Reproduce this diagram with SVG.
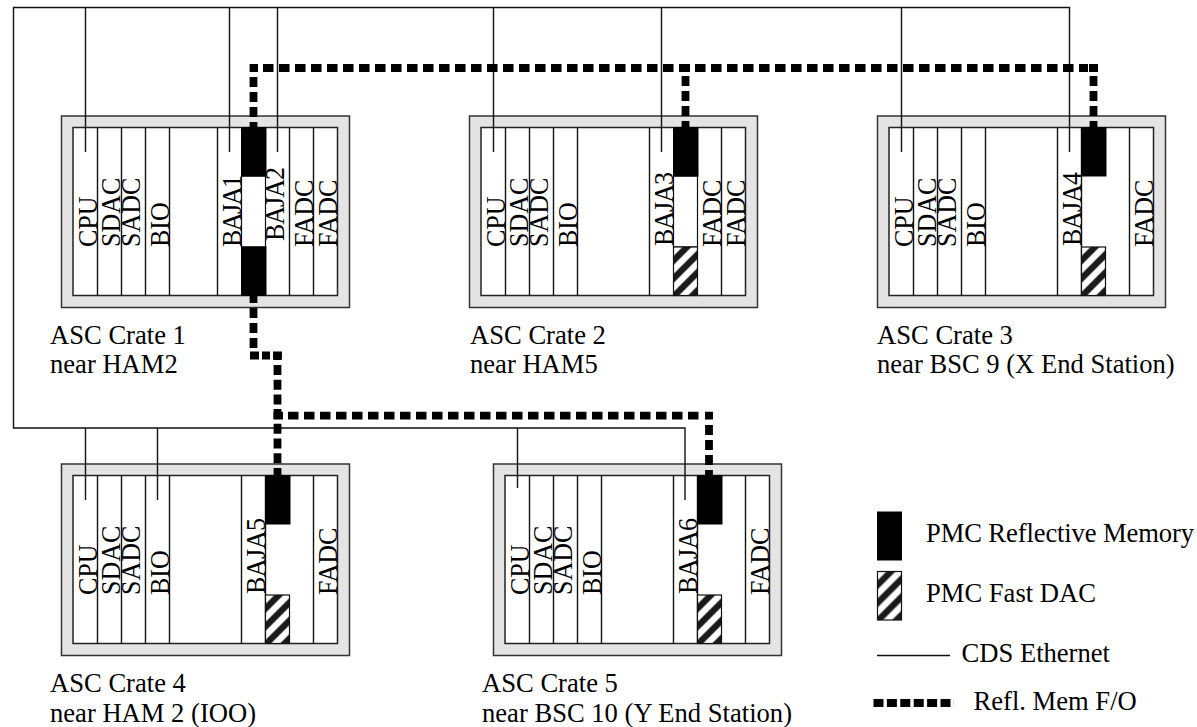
<svg xmlns="http://www.w3.org/2000/svg" width="1197" height="727" viewBox="0 0 1197 727">
<style>
text{font-family:"Liberation Serif","Times New Roman",serif;font-size:26.6px;fill:#000}
text.v{font-size:26px}
.outer{fill:#e4e4e4;stroke:#333;stroke-width:1.5}
.inner{fill:#fff;stroke:#222;stroke-width:1.5}
.slot{stroke:#111;stroke-width:1.4;fill:none}
.rm{fill:#000;stroke:#000;stroke-width:1}
.mid{fill:#fff;stroke:#111;stroke-width:1.2}
.dac{fill:url(#hatch);stroke:#111;stroke-width:1.2}
.eth{stroke:#111;stroke-width:1.4;fill:none}
.fo{stroke:#000;stroke-width:7.800;fill:none;stroke-dasharray:10 5}
.foh{stroke:#000;stroke-width:7.800;fill:none;stroke-dasharray:10.500 5.500}
.solid{stroke-dasharray:none}
</style>
<defs>
<pattern id="hatch" patternUnits="userSpaceOnUse" width="18" height="18" x="0" y="0">
<rect width="18" height="18" fill="#fff"/>
<polygon points="0,9 9,0 18,0 0,18" fill="#1a1a1a"/>
<polygon points="18,9 9,18 18,18" fill="#1a1a1a"/>
</pattern>
</defs>

<g id="crate1">
<rect class="outer" x="61.5" y="116" width="288" height="191.5"/>
<rect class="inner" x="73" y="127.5" width="264.5" height="168"/>
<path class="slot" d="M97.5 127.5V295.5M121.5 127.5V295.5M145.5 127.5V295.5M169.5 127.5V295.5M217.5 127.5V295.5M289.5 127.5V295.5M313.5 127.5V295.5"/>
<rect class="mid" x="241.5" y="176" width="24" height="71"/>
<rect class="rm" x="241.5" y="127.5" width="24.5" height="48.5"/>
<rect class="rm" x="241.5" y="247" width="24.5" height="48.5"/>
<text class="v" transform="translate(97,247) rotate(-90) scale(1,1.05)">CPU</text>
<text class="v" transform="translate(120,247) rotate(-90) scale(1,1.05)">SDAC</text>
<text class="v" transform="translate(139.5,247) rotate(-90) scale(1,1.05)">SADC</text>
<text class="v" transform="translate(169,247) rotate(-90) scale(1,1.05)">BIO</text>
<text class="v" transform="translate(241,247) rotate(-90) scale(1,1.05)" textLength="72">BAJA1</text>
<text class="v" transform="translate(284,241) rotate(-90) scale(1,1.05)" textLength="74">BAJA2</text>
<text class="v" transform="translate(313,247) rotate(-90) scale(1,1.05)">FADC</text>
<text class="v" transform="translate(337,247) rotate(-90) scale(1,1.05)">FADC</text>
<text x="50" y="344">ASC Crate 1</text>
<text x="50" y="373">near HAM2</text>
</g>

<g id="crate2" transform="translate(408,0)">
<rect class="outer" x="61.5" y="116" width="288" height="191.5"/>
<rect class="inner" x="73" y="127.5" width="264.5" height="168"/>
<path class="slot" d="M97.5 127.5V295.5M121.5 127.5V295.5M145.5 127.5V295.5M169.5 127.5V295.5M241.5 127.5V295.5M313.5 127.5V295.5"/>
<rect class="mid" x="265.5" y="176" width="24" height="71"/>
<rect class="rm" x="265.5" y="127.5" width="24.5" height="48.5"/>
<g transform="translate(265.5,247)"><rect class="dac" width="24" height="48.5"/></g>
<text class="v" transform="translate(97,247) rotate(-90) scale(1,1.05)">CPU</text>
<text class="v" transform="translate(120,247) rotate(-90) scale(1,1.05)">SDAC</text>
<text class="v" transform="translate(139.5,247) rotate(-90) scale(1,1.05)">SADC</text>
<text class="v" transform="translate(169,247) rotate(-90) scale(1,1.05)">BIO</text>
<text class="v" transform="translate(265,246) rotate(-90) scale(1,1.05)" textLength="74">BAJA3</text>
<text class="v" transform="translate(313,247) rotate(-90) scale(1,1.05)">FADC</text>
<text class="v" transform="translate(337,247) rotate(-90) scale(1,1.05)">FADC</text>
<text x="62" y="344">ASC Crate 2</text>
<text x="62" y="373">near HAM5</text>
</g>

<g id="crate3" transform="translate(816,0)">
<rect class="outer" x="61.5" y="116" width="288" height="191.5"/>
<rect class="inner" x="73" y="127.5" width="264.5" height="168"/>
<path class="slot" d="M97.5 127.5V295.5M121.5 127.5V295.5M145.5 127.5V295.5M169.5 127.5V295.5M241.5 127.5V295.5M265.5 127.5V295.5M313.5 127.5V295.5"/>
<rect class="rm" x="265.5" y="127.5" width="24.5" height="48.5"/>
<g transform="translate(265.5,247)"><rect class="dac" width="24" height="48.5"/></g>
<text class="v" transform="translate(97,247) rotate(-90) scale(1,1.05)">CPU</text>
<text class="v" transform="translate(120,247) rotate(-90) scale(1,1.05)">SDAC</text>
<text class="v" transform="translate(139.5,247) rotate(-90) scale(1,1.05)">SADC</text>
<text class="v" transform="translate(169,247) rotate(-90) scale(1,1.05)">BIO</text>
<text class="v" transform="translate(265,246) rotate(-90) scale(1,1.05)" textLength="74">BAJA4</text>
<text class="v" transform="translate(337,247) rotate(-90) scale(1,1.05)">FADC</text>
<text x="61" y="344">ASC Crate 3</text>
<text x="61" y="373">near BSC 9 (X End Station)</text>
</g>

<g id="crate4" transform="translate(0,348)">
<rect class="outer" x="61.5" y="116" width="288" height="191.5"/>
<rect class="inner" x="73" y="127.5" width="264.5" height="168"/>
<path class="slot" d="M97.5 127.5V295.5M121.5 127.5V295.5M145.5 127.5V295.5M169.5 127.5V295.5M241.5 127.5V295.5M265.5 127.5V295.5M313.5 127.5V295.5"/>
<rect class="rm" x="265.5" y="127.5" width="24.5" height="48.5"/>
<g transform="translate(265.5,247)"><rect class="dac" width="24" height="48.5"/></g>
<text class="v" transform="translate(97,247) rotate(-90) scale(1,1.05)">CPU</text>
<text class="v" transform="translate(120,247) rotate(-90) scale(1,1.05)">SDAC</text>
<text class="v" transform="translate(139.5,247) rotate(-90) scale(1,1.05)">SADC</text>
<text class="v" transform="translate(169,247) rotate(-90) scale(1,1.05)">BIO</text>
<text class="v" transform="translate(265,246) rotate(-90) scale(1,1.05)" textLength="76">BAJA5</text>
<text class="v" transform="translate(337,247) rotate(-90) scale(1,1.05)">FADC</text>
<text x="50" y="344">ASC Crate 4</text>
<text x="50" y="373.500">near HAM 2 (IOO)</text>
</g>

<g id="crate5" transform="translate(432,348)">
<rect class="outer" x="61.5" y="116" width="288" height="191.5"/>
<rect class="inner" x="73" y="127.5" width="264.5" height="168"/>
<path class="slot" d="M97.5 127.5V295.5M121.5 127.5V295.5M145.5 127.5V295.5M169.5 127.5V295.5M241.5 127.5V295.5M265.5 127.5V295.5M313.5 127.5V295.5"/>
<rect class="rm" x="265.5" y="127.5" width="24.5" height="48.5"/>
<g transform="translate(265.5,247)"><rect class="dac" width="24" height="48.5"/></g>
<text class="v" transform="translate(97,247) rotate(-90) scale(1,1.05)">CPU</text>
<text class="v" transform="translate(120,247) rotate(-90) scale(1,1.05)">SDAC</text>
<text class="v" transform="translate(139.5,247) rotate(-90) scale(1,1.05)">SADC</text>
<text class="v" transform="translate(169,247) rotate(-90) scale(1,1.05)">BIO</text>
<text class="v" transform="translate(265,246) rotate(-90) scale(1,1.05)" textLength="76">BAJA6</text>
<text class="v" transform="translate(337,247) rotate(-90) scale(1,1.05)">FADC</text>
<text x="50" y="344">ASC Crate 5</text>
<text x="50" y="373.500">near BSC 10 (Y End Station)</text>
</g>

<g id="connectors">
<path class="eth" d="M685 500V428H13.5V7.5H1069.5V152M85.5 7.5V152M229.5 7.5V152M277.5 7.5V152M493.5 7.5V152M661.5 7.5V152M901.5 7.5V152M85.5 428V500M157.5 428V500M517.5 428V488"/>
<path class="foh" d="M263 68H1088"/>
<path class="fo solid" d="M253.5 64V72M685.5 64V72M1093.5 64V72M250 68H258M681 68H690M1089 68H1098"/>
<path class="fo" d="M253.5 77V127"/>
<path class="fo" d="M685.5 76V127"/>
<path class="fo" d="M1093.5 76V127"/>
<path class="fo solid" d="M253.5 296V303"/>
<path class="fo" d="M253.5 308V350"/>
<path class="fo solid" d="M250 355.500H259M262 355.500H270M273 355.500H282"/>
<path class="fo solid" d="M277.500 352V360"/>
<path class="fo" d="M277.500 365V475.500" style="stroke-dasharray:10 4.700"/>
<path class="foh" d="M288 415.700H703"/>
<path class="fo solid" d="M273.500 415.700H283M705 415.700H713"/>
<path class="fo" d="M709 425V475.500"/>
</g>

<g id="legend">
<rect class="rm" x="877.5" y="512" width="24" height="48"/>
<text x="926" y="542" textLength="268">PMC Reflective Memory</text>
<g transform="translate(877.5,571.500)"><rect class="dac" width="24" height="48.500"/></g>
<text x="926" y="602">PMC Fast DAC</text>
<path class="eth" d="M877 655.500H950"/>
<text x="961.500" y="662">CDS Ethernet</text>
<path class="fo" d="M873.500 703H954" style="stroke-dasharray:10 3.400"/>
<text x="973.500" y="710">Refl. Mem F/O</text>
</g>
</svg>
